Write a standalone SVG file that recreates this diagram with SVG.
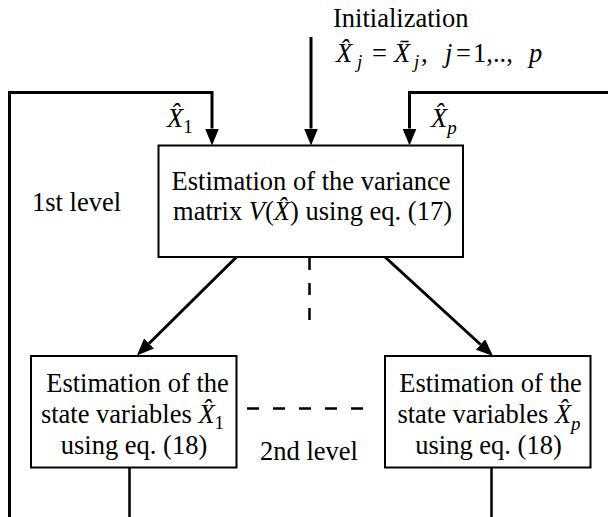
<svg xmlns="http://www.w3.org/2000/svg" width="608" height="517" viewBox="0 0 608 517">
<style>
text{font-family:'Liberation Serif','Times New Roman','DejaVu Serif',serif;font-size:26.5px;fill:#000}
.it{font-style:italic}
.sub{font-size:19px}
.box{fill:#fff;stroke:#000;stroke-width:2}
.ln{fill:none;stroke:#000;stroke-width:3}
.thin{fill:none;stroke:#000;stroke-width:2.5}
.dash{fill:none;stroke:#000;stroke-width:2.5}
</style>
<defs>
<marker id="ah" markerUnits="userSpaceOnUse" markerWidth="17" markerHeight="14" viewBox="0 0 17 14" refX="0" refY="7" orient="auto">
<path d="M0,0 L17,7 L0,14 Z" fill="#000"/>
</marker>
</defs>
<g id="connectors">
<path class="ln" d="M9.5,517 V92.5 H212 V128.5" marker-end="url(#ah)"/>
<path class="ln" d="M608,92.5 H409.5 V128.5" marker-end="url(#ah)"/>
<path class="ln" d="M311,37 V128.5" marker-end="url(#ah)"/>
<path class="ln" d="M236.5,257 L149,343.5" marker-end="url(#ah)"/>
<path class="ln" d="M385,257 L480.5,344.5" marker-end="url(#ah)"/>
<path class="thin" d="M129.5,468 V517"/>
<path class="thin" d="M491.5,468 V517"/>
<path class="dash" d="M309.5,258 V322" stroke-dasharray="12 13"/>
<path class="dash" d="M247,408.5 H367" stroke-dasharray="12 14"/>
</g>
<g id="init">
<text x="333" y="26.5">Initialization</text>
<text y="62"><tspan class="it" x="336">X&#x302;</tspan><tspan class="it sub" x="357" dy="6">j</tspan><tspan x="372" dy="-6">=</tspan><tspan class="it" x="394">X&#x304;</tspan><tspan class="it sub" x="414" dy="6">j</tspan><tspan x="421" dy="-6">,</tspan><tspan class="it" x="445">j</tspan><tspan x="456">=</tspan><tspan x="473">1,.., </tspan><tspan class="it" x="529">p</tspan></text>
</g>
<g id="label-x1">
<text x="167" y="126.5"><tspan class="it">X&#x302;</tspan><tspan class="sub" dy="6">1</tspan></text>
</g>
<g id="label-xp">
<text x="431" y="126.5"><tspan class="it">X&#x302;</tspan><tspan class="it sub" dy="7">p</tspan></text>
</g>
<g id="level1">
<text x="32" y="211">1st level</text>
</g>
<g id="level2">
<text x="260" y="460">2nd level</text>
</g>
<g id="variance">
<rect class="box" x="158.5" y="145.5" width="304.5" height="111.5"/>
<text x="311" y="190" text-anchor="middle">Estimation of the variance</text>
<text x="312.5" y="220" text-anchor="middle">matrix <tspan class="it">V</tspan>(<tspan class="it">X&#x302;</tspan>) using eq. (17)</text>
</g>
<g id="state1">
<rect class="box" x="31" y="356" width="205.5" height="111.5"/>
<text x="137.5" y="391.5" text-anchor="middle">Estimation of the</text>
<text x="132.5" y="422.5" text-anchor="middle">state variables <tspan class="it">X&#x302;</tspan><tspan class="sub" dy="6">1</tspan></text>
<text x="134" y="453.5" text-anchor="middle">using eq. (18)</text>
</g>
<g id="statep">
<rect class="box" x="385" y="356" width="205.5" height="111.5"/>
<text x="490.5" y="391.5" text-anchor="middle">Estimation of the</text>
<text x="489" y="422.5" text-anchor="middle">state variables <tspan class="it">X&#x302;</tspan><tspan class="it sub" dy="7">p</tspan></text>
<text x="488.5" y="453.5" text-anchor="middle">using eq. (18)</text>
</g>
</svg>
